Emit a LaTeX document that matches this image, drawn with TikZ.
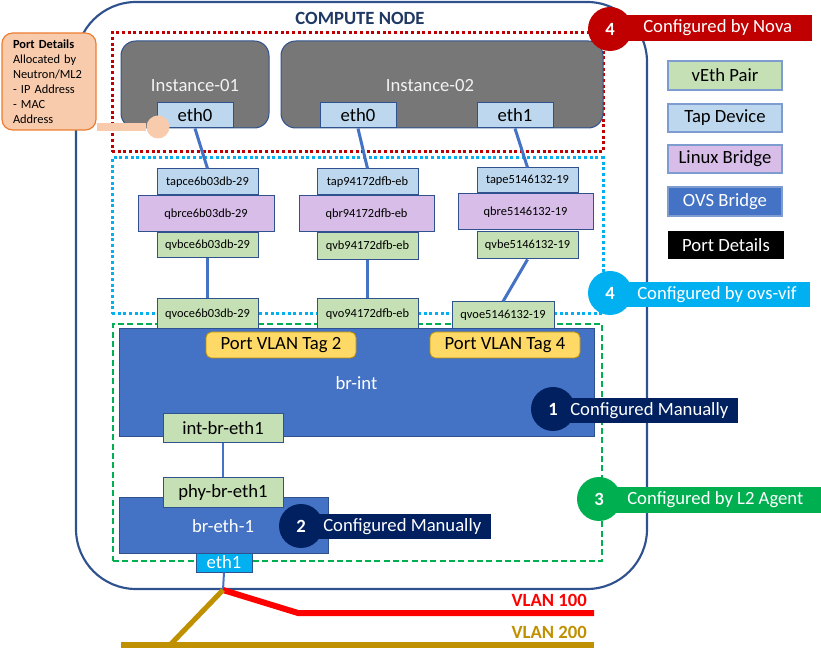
\documentclass[tikz,border=0pt]{standalone}
\usepackage{fontspec}
\setmainfont{Carlito}
\definecolor{bdr}{HTML}{2F528F}
\definecolor{vethC}{HTML}{C5E0B4}
\definecolor{tapC}{HTML}{BDD7EE}
\definecolor{lbC}{HTML}{D7BDE8}
\definecolor{ovsC}{HTML}{4472C4}
\definecolor{instC}{HTML}{777777}
\definecolor{novaC}{HTML}{C00000}
\definecolor{vifC}{HTML}{00B0F0}
\definecolor{agentC}{HTML}{00B050}
\definecolor{navyC}{HTML}{002060}
\definecolor{pdFill}{HTML}{F8CBAD}
\definecolor{pdDraw}{HTML}{ED7D31}
\definecolor{goldC}{HTML}{BF9000}
\definecolor{tagC}{HTML}{FFD966}
\definecolor{titleC}{HTML}{203864}
\definecolor{legB}{HTML}{7F9CD0}
\newcommand\fbig{\fontsize{14}{16.8}\selectfont}
\newcommand\fsmall{\fontsize{9.3}{11.25}\selectfont}
\newcommand\bx[7]{\node[#6, minimum width={(#4-#2)*0.75pt}, minimum height={(#5-#3)*0.75pt}] (#1) at ({(#2+#4)/2},{(#3+#5)/2}) {#7};}
% badge: name, cx, cy, rect right, rect top, rect bottom, colour, number, text x, text
\newcommand\badge[9]{%
  \bx{#1r}{#2}{#5}{#4}{#6}{fill=#7, inner sep=0pt}{}
  \node[circle, fill=#7, minimum size=44*0.75pt, inner sep=0pt, text=white, font=\fbig\bfseries] (#1c) at (#2,#3) {#8};
  \node[anchor=west, text=white, font=\fbig, inner sep=0pt] (#1t) at (#9,{(#5+#6)/2}) {\badgetext};}
\tikzset{
  base/.style={draw=bdr, line width=0.75pt, inner sep=0pt},
  veth/.style={base, fill=vethC},
  tapd/.style={base, fill=tapC},
  lbr/.style={base, fill=lbC},
  ovs/.style={base, fill=ovsC, text=white},
  inst/.style={base, fill=instC, rounded corners=11pt, text=white!95!black},
  tag/.style={draw=goldC, line width=0.6pt, fill=tagC, rounded corners=4pt, inner sep=0pt},
  leg/.style={draw=legB, line width=0.9pt, inner sep=0pt, font=\fbig},
  link/.style={draw=ovsC, line width=2.25pt},
  thinlink/.style={draw=ovsC, line width=1.5pt},
}
\begin{document}
\begin{tikzpicture}[x=0.75pt,y=-0.75pt]
\useasboundingbox (0,0) rectangle (821,655);
% compute node
\bx{cn}{76}{2}{647}{589}{draw=bdr, line width=1.6pt, rounded corners=45pt}{}
\node[font=\fbig\bfseries, text=titleC] (cntitle) at (360,18) {COMPUTE NODE};
% group frames
\bx{gnova}{112}{33}{603}{152}{draw=novaC, line width=2.25pt, dash pattern=on 2.25pt off 2pt}{}
\bx{gvif}{112}{158}{603}{314}{draw=vifC, line width=2.25pt, dash pattern=on 2.25pt off 2pt}{}
\bx{gagent}{113}{324}{602}{561}{draw=agentC, line width=1.5pt, dash pattern=on 4.5pt off 2.5pt}{}
% instances
\bx{i1}{121}{41}{269}{128}{inst}{}
\node[text=white!95!black, font=\fbig] (i1t) at (195,86) {Instance-01};
\bx{i2}{281}{41}{603}{128}{inst}{}
\node[text=white!95!black, font=\fbig] (i2t) at (430,86) {Instance-02};
\bx{e01}{157}{103}{233}{128}{tapd, font=\fbig}{eth0}
\bx{e02}{320}{103}{396}{128}{tapd, font=\fbig}{eth0}
\bx{e12}{477}{103}{553}{128}{tapd, font=\fbig}{eth1}
% column 1
\bx{tap1}{157}{169}{258}{195}{tapd, font=\fsmall}{tapce6b03db-29}
\bx{qbr1}{138}{196}{274}{232}{lbr, font=\fsmall}{qbrce6b03db-29}
\bx{qvb1}{157}{233}{258}{258}{veth, font=\fsmall}{qvbce6b03db-29}
% column 2
\bx{tap2}{317}{169}{418}{195}{tapd, font=\fsmall}{tap94172dfb-eb}
\bx{qbr2}{299}{196}{434}{232}{lbr, font=\fsmall}{qbr94172dfb-eb}
\bx{qvb2}{317}{233}{418}{260}{veth, font=\fsmall}{qvb94172dfb-eb}
% column 3
\bx{tap3}{477}{168}{578}{193}{tapd, font=\fsmall}{tape5146132-19}
\bx{qbr3}{458}{194}{593}{230}{lbr, font=\fsmall}{qbre5146132-19}
\bx{qvb3}{477}{232}{578}{259}{veth, font=\fsmall}{qvbe5146132-19}
% qvo ports
\bx{qvo1}{157}{299}{258}{329}{veth, font=\fsmall}{qvoce6b03db-29}
\bx{qvo2}{317}{299}{418}{329}{veth, font=\fsmall}{qvo94172dfb-eb}
\bx{qvo3}{452}{302}{554}{329}{veth, font=\fsmall}{qvoe5146132-19}
% bridges
\bx{brint}{119}{329}{594}{437}{ovs, font=\fbig}{br-int}
\bx{tag2}{206}{332}{356}{358}{tag, font=\fbig}{Port VLAN Tag 2}
\bx{tag4}{430}{332}{580}{358}{tag, font=\fbig}{Port VLAN Tag 4}
\bx{intbr}{163}{414}{283}{443}{veth, font=\fbig}{int-br-eth1}
\bx{breth}{119}{498}{328}{553}{ovs, font=\fbig}{}
\node[text=white, font=\fbig] (brethT) at (223,526) {br-eth-1};
\bx{phybr}{163}{478}{283}{508}{veth, font=\fbig}{phy-br-eth1}
\bx{eth1b}{196}{553}{252}{572}{base, fill=vifC, text=white, font=\fbig}{eth1}
% connectors
\draw[link] (e01.south) -- (tap1.north);
\draw[link] (e02.south) -- (tap2.north);
\draw[link] (e12.south) -- (tap3.north);
\draw[link] (qvb1.south) -- (qvo1.north);
\draw[link] (qvb2.south) -- (qvo2.north);
\draw[link] (qvb3.south) -- (qvo3.north);
\draw[thinlink] (intbr.south) -- (phybr.north);
\coordinate (j) at (223,590);
\draw[thinlink] (eth1b.south) -- (j);
% VLANs
\coordinate (r1) at (298,613);
\coordinate (r2) at (594,613);
\coordinate (g1) at (170,645);
\coordinate (g0) at (121,645);
\coordinate (g2) at (594,645);
\draw[draw=red, line width=4.5pt] (j) -- (r1) -- (r2);
\draw[draw=goldC, line width=3.8pt] (j) -- (g1);
\draw[draw=goldC, line width=3.8pt] (g0) -- (g2);
\node[anchor=east, text=red, font=\fbig\bfseries, inner sep=0pt] (v100) at (587,600) {VLAN 100};
\node[anchor=east, text=goldC, font=\fbig\bfseries, inner sep=0pt] (v200) at (587,632) {VLAN 200};
% port details callout
\bx{pd}{2}{33}{96}{130}{draw=pdDraw, line width=0.9pt, fill=pdFill, rounded corners=8pt, font=\fsmall, align=left, text width=54pt}{\textbf{Port Details}\\Allocated by\\Neutron/ML2\\- IP Address\\- MAC\\Address}
\node[circle, fill=pdFill, minimum size=23*0.75pt, inner sep=0pt] (pdot) at (158,127) {};
\draw[draw=pdFill, line width=6pt] (pd.east |- pdot) -- (pdot);
% legend
\bx{lg1}{668}{61}{782}{90}{leg, fill=vethC}{vEth Pair}
\bx{lg2}{668}{104}{782}{132}{leg, fill=tapC}{Tap Device}
\bx{lg3}{668}{145}{782}{173}{leg, fill=lbC}{Linux Bridge}
\bx{lg4}{668}{187}{782}{216}{leg, fill=ovsC, text=white}{OVS Bridge}
\bx{lg5}{668}{231}{784}{259}{fill=black, text=white, inner sep=0pt, font=\fbig}{Port Details}
% badges
\def\badgetext{Configured by Nova}
\badge{bnova}{610}{29}{812}{15}{41}{novaC}{4}{643}
\def\badgetext{Configured by ovs-vif}
\badge{bvif}{610}{293}{810}{282}{307}{vifC}{4}{637}
\def\badgetext{Configured Manually}
\badge{bm1}{553}{409}{738}{398}{423}{navyC}{1}{570}
\def\badgetext{Configured by L2 Agent}
\badge{bl2}{599}{499}{821}{487}{513}{agentC}{3}{627}
\def\badgetext{Configured Manually}
\badge{bm2}{301}{526}{491}{514}{539}{navyC}{2}{323}
\end{tikzpicture}
\end{document}
